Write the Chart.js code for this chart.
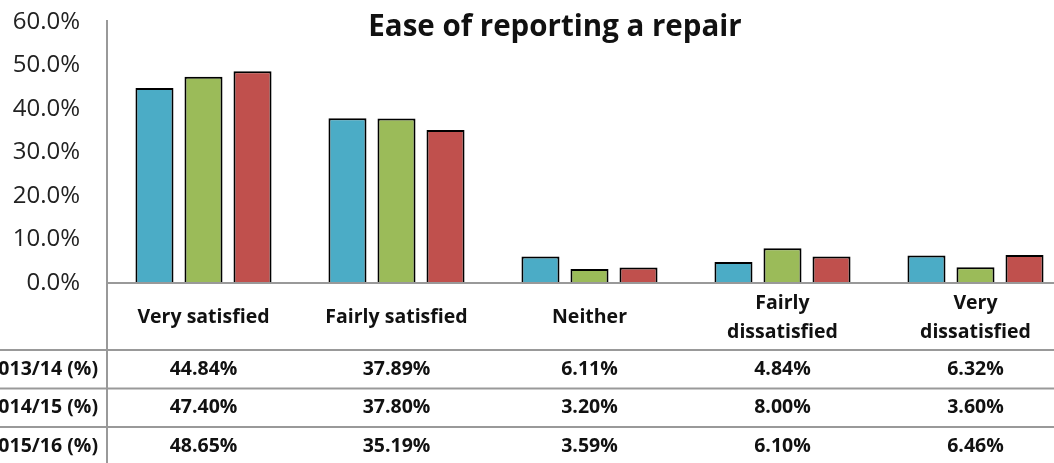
<!DOCTYPE html>
<html lang="en">
<head>
<meta charset="UTF-8">
<title>Ease of reporting a repair</title>
<script src="https://cdn.jsdelivr.net/npm/chart.js"></script>
<style>
  html, body { margin: 0; padding: 0; background: #fff; }
  .frame { width: 1054px; height: 463px; overflow: hidden; position: relative; }
  .wrap { position: absolute; left: 0; top: 0; width: 1100px; height: 463px; }
</style>
</head>
<body>
<div class="frame">
  <div class="wrap"><canvas id="chart" width="1100" height="463"></canvas></div>
</div>
<script>
  // chart data
  const categories = [
    ["Very satisfied"],
    ["Fairly satisfied"],
    ["Neither"],
    ["Fairly", "dissatisfied"],
    ["Very", "dissatisfied"]
  ];
  const seriesNames = ["2013/14 (%)", "2014/15 (%)", "2015/16 (%)"];
  const values1314 = [44.84, 37.89, 6.11, 4.84, 6.32];
  const values1415 = [47.40, 37.80, 3.20, 8.00, 3.60];
  const values1516 = [48.65, 35.19, 3.59, 6.10, 6.46];
  const colors = ["#4BACC6", "#9BBB59", "#C0504D"];
  const title = "Ease of reporting a repair";

  const allSeries = [values1314, values1415, values1516];
  const FONT = "'Open Sans', sans-serif";
  const GRID = "#999999";

  // draws the title, axis lines and the data table under the plot
  const tablePlugin = {
    id: "dataTable",
    afterDatasetsDraw(chart) {
      const ctx = chart.ctx;
      const xs = chart.scales.x;
      const area = chart.chartArea;
      const W = chart.width;
      const rowH = 38.5;
      const headerBottom = 350;

      ctx.save();
      ctx.strokeStyle = GRID;
      ctx.lineWidth = 2;
      // baseline
      ctx.beginPath();
      ctx.moveTo(area.left, area.bottom);
      ctx.lineTo(W, area.bottom);
      ctx.stroke();
      // vertical axis / table left border
      ctx.beginPath();
      ctx.moveTo(area.left, 20);
      ctx.lineTo(area.left, chart.height);
      ctx.stroke();
      // table row lines
      for (let r = 0; r < seriesNames.length; r++) {
        const y = headerBottom + r * rowH;
        ctx.beginPath();
        ctx.moveTo(0, y);
        ctx.lineTo(W, y);
        ctx.stroke();
      }

      ctx.fillStyle = "#111";
      ctx.textBaseline = "middle";
      ctx.font = "bold 19.5px " + FONT;
      ctx.textAlign = "center";
      // category header
      categories.forEach((lines, i) => {
        const cx = xs.getPixelForValue(i);
        const mid = (area.bottom + headerBottom) / 2 + 1;
        const lh = 29;
        lines.forEach((t, k) => {
          const y = mid + (k - (lines.length - 1) / 2) * lh;
          ctx.fillText(t, cx, y);
        });
      });
      // rows
      seriesNames.forEach((name, r) => {
        const y = headerBottom + r * rowH + rowH / 2;
        ctx.textAlign = "right";
        ctx.fillText(name, area.left - 9, y);
        ctx.textAlign = "center";
        allSeries[r].forEach((v, i) => {
          ctx.fillText(v.toFixed(2) + "%", xs.getPixelForValue(i), y);
        });
      });

      // title
      ctx.font = "bold 29.5px " + FONT;
      ctx.textAlign = "center";
      ctx.fillText(title, 555, 28);
      ctx.restore();
    }
  };

  new Chart(document.getElementById("chart"), {
    type: "bar",
    data: {
      labels: categories.map(c => c.join(" ")),
      datasets: seriesNames.map((name, i) => ({
        label: name,
        data: allSeries[i],
        backgroundColor: colors[i],
        borderColor: "#000",
        borderWidth: 2,
        categoryPercentage: 0.762,
        barPercentage: 0.776
      }))
    },
    options: {
      responsive: false,
      animation: false,
      layout: { padding: { left: 0, top: 22, right: 28, bottom: 180 } },
      plugins: {
        legend: { display: false },
        tooltip: { enabled: false }
      },
      scales: {
        x: { display: false },
        y: {
          min: 0,
          max: 60,
          afterFit: (s) => {
            s.width = 107;
            s.paddingTop = 0;
            s.paddingBottom = 0;
          },
          grid: { display: false, drawTicks: false },
          border: { display: false },
          ticks: {
            stepSize: 10,
            padding: 27,
            color: "#222",
            font: { family: FONT, size: 24 },
            callback: (v) => v.toFixed(1) + "%"
          }
        }
      }
    },
    plugins: [tablePlugin]
  });
</script>
</body>
</html>
